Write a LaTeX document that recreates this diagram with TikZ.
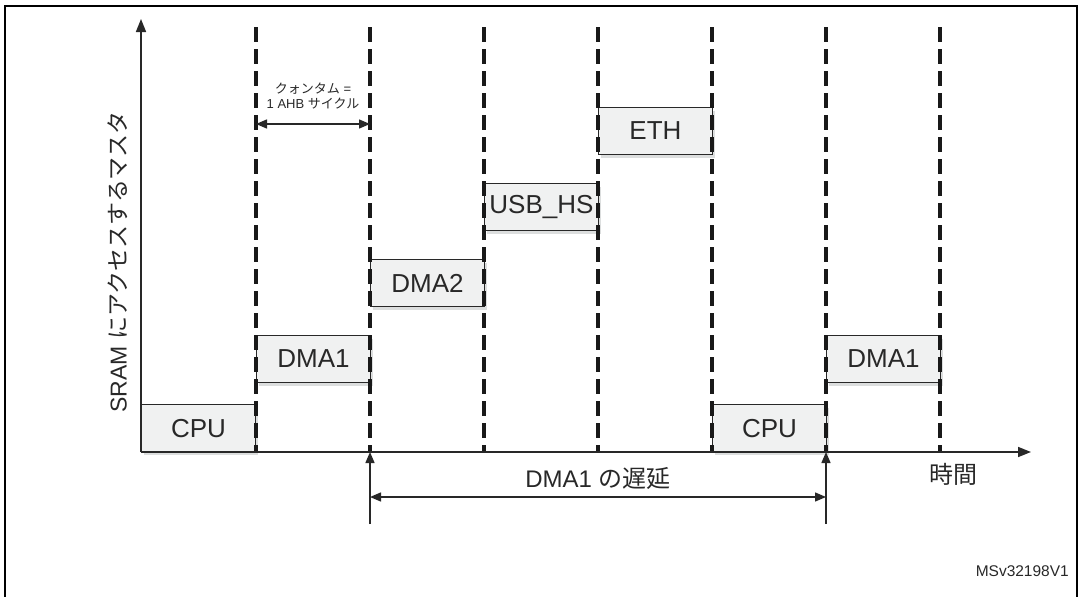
\documentclass[tikz,border=0pt]{standalone}
\usepackage{fontspec}
\setmainfont{Liberation Sans}
\newfontfamily\jp{Noto Sans CJK JP}
\usepackage{tikz}
\usetikzlibrary{arrows.meta,positioning,shadows}
\definecolor{slotFill}{RGB}{240,241,241}
\definecolor{slotShade}{RGB}{220,222,222}
\definecolor{inkGray}{RGB}{40,40,40}
\tikzset{
  slotbox/.style={draw=inkGray, line width=0.9pt, fill=slotFill, anchor=south west,
                  minimum width=114pt, minimum height=47pt, inner sep=0pt,
                  text=inkGray, font=\fontsize{26}{30}\selectfont,
                  drop shadow={shadow xshift=3pt, shadow yshift=-3pt, fill=slotShade, opacity=1}},
  dashline/.style={line width=3.6pt, draw=black!90, dash pattern=on 15pt off 7pt},
  axisarrow/.style={-{Triangle[length=13pt,width=10pt]}, line width=1.7pt, draw=inkGray},
  dimarrow/.style={{Triangle[length=11pt,width=9pt]}-{Triangle[length=11pt,width=9pt]}, line width=1.4pt, draw=inkGray},
  uparrow/.style={-{Triangle[length=11pt,width=9pt]}, line width=1.4pt, draw=inkGray},
  lbl/.style={text=inkGray, inner sep=0pt}
}
\begin{document}
\begin{tikzpicture}[x=1pt, y=-1pt]
\useasboundingbox (0,0) rectangle (1082,597);
% frame
\draw[line width=2pt, black] (5,597) -- (5,6) -- (1077,6) -- (1077,597);
% masters
\node[slotbox] (cpuA)  at (141,452) {CPU};
\node[slotbox] (dmaA)  at (256,383) {DMA1};
\node[slotbox] (dmaB)  at (370,307) {DMA2};
\node[slotbox] (usbhs) at (484,231) {USB\_HS};
\node[slotbox] (eth)   at (598,155) {ETH};
\node[slotbox] (cpuB)  at (712,452) {CPU};
\node[slotbox] (dmaC)  at (826,383) {DMA1};
% quantum slots
\foreach \i/\x in {1/256,2/370,3/484,4/598,5/712,6/826,7/940}{
  \coordinate (top\i) at (\x,27);
  \coordinate (bot\i) at (\x,452);
  \draw[dashline] (top\i) -- (bot\i);
}
% axes
\coordinate (orig) at (141,452);
\coordinate (yend) at (141,19);
\coordinate (xend) at (1031,452);
\draw[axisarrow] (orig) -- (yend);
\draw[axisarrow] (orig) -- (xend);
\node[lbl, rotate=90, font=\fontsize{23}{26}\selectfont] (ylab) at (118,262) {SRAM {\jp にアクセスするマスタ}};
\node[lbl, font=\fontsize{24}{26}\selectfont\jp] (tlab) at (953,474) {時間};
% quantum
\coordinate (qa) at (256,124);
\coordinate (qb) at (370,124);
\draw[dimarrow] (qa) -- (qb);
\node[lbl, align=center, font=\fontsize{13}{15}\selectfont] (qlab) at (313,96) {{\jp クォンタム} =\\1 AHB {\jp サイクル}};
% latency
\coordinate (la) at (370,524);
\coordinate (lb) at (826,524);
\draw[uparrow] (la) -- (bot2);
\draw[uparrow] (lb) -- (bot6);
\coordinate (da) at (370,497);
\coordinate (db) at (826,497);
\draw[dimarrow] (da) -- (db);
\node[lbl, font=\fontsize{24}{26}\selectfont] (dlab) at (598,478) {DMA1 {\jp の遅延}};
\node[lbl, anchor=east, font=\fontsize{15.5}{18}\selectfont] (ref) at (1069,571) {MSv32198V1};
\end{tikzpicture}
\end{document}
